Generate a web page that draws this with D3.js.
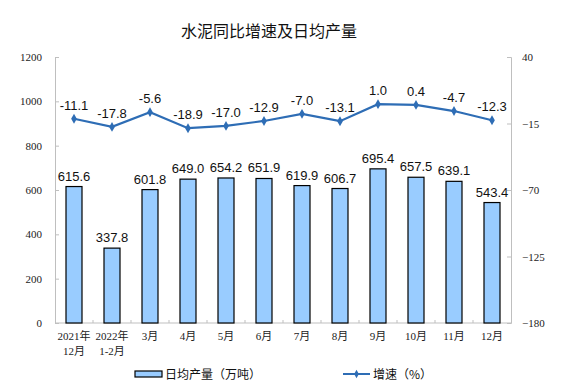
<!DOCTYPE html>
<html><head><meta charset="utf-8">
<script src="https://cdn.jsdelivr.net/npm/d3@7"></script>
<style>body{margin:0;background:#fff}svg{display:block}</style>
</head><body>
<script>
const categories = [["2021年","12月"],["2022年","1-2月"],["3月"],["4月"],["5月"],["6月"],["7月"],["8月"],["9月"],["10月"],["11月"],["12月"]];
const output = [615.6,337.8,601.8,649.0,654.2,651.9,619.9,606.7,695.4,657.5,639.1,543.4];
const growth = [-11.1,-17.8,-5.6,-18.9,-17.0,-12.9,-7.0,-13.1,1.0,0.4,-4.7,-12.3];
const leftTicks = [0,200,400,600,800,1000,1200];
const rightTicks = [-180,-125,-70,-15,40];
const title = "水泥同比增速及日均产量";
const legendBar = "日均产量（万吨）";
const legendLine = "增速（%）";

const W=574,H=392;
const m={l:55,r:63,t:57,b:69};
const svg=d3.select("body").append("svg").attr("width",W).attr("height",H);
const x=d3.scaleBand().domain(d3.range(categories.length)).range([m.l,W-m.r]);
const yL=d3.scaleLinear().domain([0,1200]).range([H-m.b,m.t]);
const yR=d3.scaleLinear().domain([-180,40]).range([H-m.b,m.t]);
const axisCol="#bfbfbf";
const serif="'Liberation Serif','Noto Sans CJK SC',serif";
const sans="'Liberation Sans',Arial,sans-serif";

svg.append("text").attr("x",269).attr("y",37).attr("text-anchor","middle")
  .attr("font-family","'Noto Sans CJK SC',sans-serif").attr("font-size",16).attr("fill","#111").text(title);

// left axis
const gL=svg.append("g").attr("transform",`translate(${m.l},0)`)
  .call(d3.axisLeft(yL).tickValues(leftTicks).tickSize(-4).tickPadding(13).tickFormat(d3.format("d")));
gL.selectAll("path,line").attr("stroke",axisCol);
gL.selectAll("text").attr("font-family",serif).attr("font-size",11).attr("fill","#222");
// right axis
const gR=svg.append("g").attr("transform",`translate(${W-m.r},0)`)
  .call(d3.axisRight(yR).tickValues(rightTicks).tickSize(-4).tickPadding(11).tickFormat(d3.format("d")));
gR.selectAll("path,line").attr("stroke",axisCol);
gR.selectAll("text").attr("font-family",serif).attr("font-size",11).attr("fill","#222");
// bottom axis
svg.append("line").attr("x1",m.l).attr("x2",W-m.r).attr("y1",H-m.b).attr("y2",H-m.b).attr("stroke",axisCol);
svg.append("g").selectAll("line").data(d3.range(1,categories.length)).join("line")
  .attr("x1",i=>x(i)).attr("x2",i=>x(i)).attr("y1",H-m.b).attr("y2",H-m.b-3).attr("stroke",axisCol);
const xl=svg.append("g").selectAll("text").data(categories).join("text")
  .attr("x",(d,i)=>x(i)+x.bandwidth()/2).attr("y",H-m.b+17).attr("text-anchor","middle")
  .attr("font-family",serif).attr("font-size",11).attr("fill","#222");
xl.selectAll("tspan").data(d=>d).join("tspan").attr("x",function(){return this.parentNode.getAttribute("x");})
  .attr("dy",(d,i)=>i?15:0).text(d=>d);

// bars
const bw=16;
svg.append("g").selectAll("rect").data(output).join("rect")
  .attr("x",(d,i)=>x(i)+x.bandwidth()/2-bw/2).attr("width",bw)
  .attr("y",d=>yL(d)).attr("height",d=>yL(0)-yL(d))
  .attr("fill","#99ccff").attr("stroke","#000").attr("stroke-width",1.2);
svg.append("g").selectAll("text").data(output).join("text")
  .attr("x",(d,i)=>x(i)+x.bandwidth()/2).attr("y",d=>yL(d)-6).attr("text-anchor","middle")
  .attr("font-family",sans).attr("font-size",13).attr("fill","#111").text(d=>d.toFixed(1));

// line
const lc="#2e6db5";
svg.append("path").datum(growth)
  .attr("d",d3.line().x((d,i)=>x(i)+x.bandwidth()/2).y(d=>yR(d)))
  .attr("fill","none").attr("stroke",lc).attr("stroke-width",2.2);
svg.append("g").selectAll("path").data(growth).join("path")
  .attr("transform",(d,i)=>`translate(${x(i)+x.bandwidth()/2},${yR(d)})`)
  .attr("d",d3.symbol(d3.symbolDiamond,28)).attr("fill",lc);
svg.append("g").selectAll("text").data(growth).join("text")
  .attr("x",(d,i)=>x(i)+x.bandwidth()/2).attr("y",d=>yR(d)-9).attr("text-anchor","middle")
  .attr("font-family",sans).attr("font-size",13).attr("fill","#111").text(d=>d.toFixed(1));

// legend
const ly=374;
svg.append("rect").attr("x",135).attr("y",ly-3).attr("width",27).attr("height",6)
  .attr("fill","#99ccff").attr("stroke","#000").attr("stroke-width",1.2);
svg.append("text").attr("x",165).attr("y",ly+4.5).attr("font-family","'Noto Sans CJK SC',sans-serif")
  .attr("font-size",12).attr("fill","#111").text(legendBar);
svg.append("line").attr("x1",343).attr("x2",370).attr("y1",ly).attr("y2",ly).attr("stroke",lc).attr("stroke-width",2);
svg.append("path").attr("transform",`translate(356.5,${ly})`).attr("d",d3.symbol(d3.symbolDiamond,20)).attr("fill",lc);
svg.append("text").attr("x",373).attr("y",ly+4.5).attr("font-family","'Noto Sans CJK SC',sans-serif")
  .attr("font-size",12).attr("fill","#111").text(legendLine);
</script>
</body></html>
